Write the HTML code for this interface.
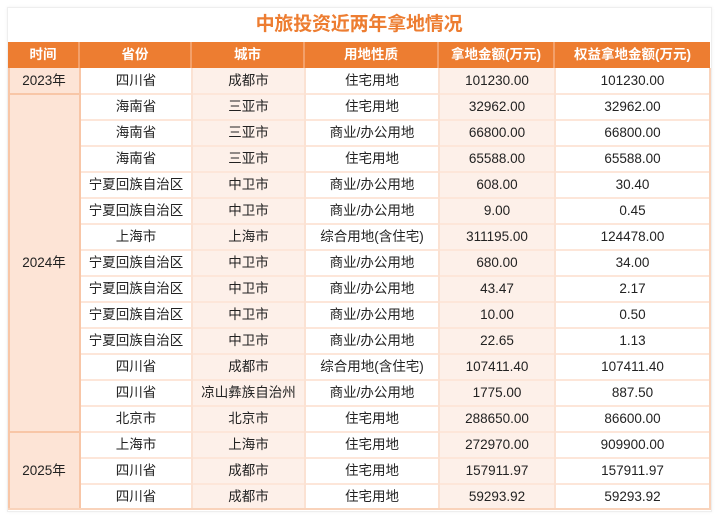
<!DOCTYPE html>
<html><head><meta charset="utf-8"><style>
*{margin:0;padding:0;box-sizing:border-box}
html,body{width:720px;height:519px;background:#fff;overflow:hidden;font-family:"Liberation Sans","Noto Sans CJK SC",sans-serif}
.panel{position:absolute;left:7px;top:7px;width:705px;height:505px;border:1px solid #eeeeee;box-shadow:0 0 3px rgba(0,0,0,0.06);background:#fff}
.title{position:absolute;left:8px;top:11px;width:702px;text-align:center;font-size:19px;font-weight:bold;color:#ed7d31;line-height:28px;letter-spacing:-0.2px}
.bg{position:absolute}
.hdr{position:absolute;left:8px;top:42px;width:702px;height:26px;background:#ed7d31;display:flex}
.hdr div{color:#fff;font-weight:bold;font-size:13.5px;text-align:center;line-height:26px;border-right:2px solid #f3a06a}
.hdr div:last-child{border-right:none}
.row{position:absolute;left:80px;width:630px;height:26px;display:flex}
.row div{font-size:13.5px;color:#222;text-align:center;line-height:25px;white-space:nowrap}
.c1{width:112px}.c2{width:113px}.c3{width:134px}.c4{width:116px}.c5{width:155px}
.hl{position:absolute;left:80px;width:630px;height:2px;background:#fde6d9}
.vl{position:absolute;top:68px;height:442px;width:1.5px;background:#fbe2d3}
.yr{position:absolute;left:8px;width:72px;text-align:center;font-size:13.5px;color:#222;line-height:20px}
</style></head><body>
<div class="panel"></div>
<div class="title">中旅投资近两年拿地情况</div>

<div class="bg" style="left:8px;top:68px;width:72px;height:442px;background:#fde4d6"></div>
<div class="bg" style="left:192px;top:68px;width:113px;height:442px;background:#fdf0e9"></div>
<div class="bg" style="left:439px;top:68px;width:116px;height:442px;background:#fdf0e9"></div>

<div class="hdr">
<div style="width:72px">时间</div><div style="width:112px">省份</div><div style="width:113px">城市</div><div style="width:134px">用地性质</div><div style="width:116px">拿地金额(万元)</div><div style="width:155px">权益拿地金额(万元)</div>
</div>

<div class="hl" style="top:93px"></div>
<div class="hl" style="top:119px"></div>
<div class="hl" style="top:145px"></div>
<div class="hl" style="top:171px"></div>
<div class="hl" style="top:197px"></div>
<div class="hl" style="top:223px"></div>
<div class="hl" style="top:249px"></div>
<div class="hl" style="top:275px"></div>
<div class="hl" style="top:301px"></div>
<div class="hl" style="top:327px"></div>
<div class="hl" style="top:353px"></div>
<div class="hl" style="top:379px"></div>
<div class="hl" style="top:405px"></div>
<div class="hl" style="top:431px"></div>
<div class="hl" style="top:457px"></div>
<div class="hl" style="top:483px"></div>
<div class="bg" style="left:8px;top:93px;width:72px;height:2px;background:#f8c6a7"></div>
<div class="bg" style="left:8px;top:431px;width:72px;height:2px;background:#f8c6a7"></div>

<div class="vl" style="left:191px"></div>
<div class="vl" style="left:304px"></div>
<div class="vl" style="left:438px"></div>
<div class="vl" style="left:554px"></div>
<div class="bg" style="left:79px;top:68px;width:2px;height:442px;background:#f8c6a7"></div>
<div class="bg" style="left:8px;top:68px;width:1.5px;height:442px;background:#f8c6a7"></div>
<div class="bg" style="left:709px;top:68px;width:1.5px;height:442px;background:#f9d3bb"></div>
<div class="bg" style="left:8px;top:508px;width:702px;height:2px;background:#f9d3bb"></div>

<div class="yr" style="top:71px">2023年</div>
<div class="yr" style="top:253px">2024年</div>
<div class="yr" style="top:461px">2025年</div>

<div class="row" style="top:68px"><div class="c1">四川省</div><div class="c2">成都市</div><div class="c3">住宅用地</div><div class="c4">101230.00</div><div class="c5">101230.00</div></div>
<div class="row" style="top:94px"><div class="c1">海南省</div><div class="c2">三亚市</div><div class="c3">住宅用地</div><div class="c4">32962.00</div><div class="c5">32962.00</div></div>
<div class="row" style="top:120px"><div class="c1">海南省</div><div class="c2">三亚市</div><div class="c3">商业/办公用地</div><div class="c4">66800.00</div><div class="c5">66800.00</div></div>
<div class="row" style="top:146px"><div class="c1">海南省</div><div class="c2">三亚市</div><div class="c3">住宅用地</div><div class="c4">65588.00</div><div class="c5">65588.00</div></div>
<div class="row" style="top:172px"><div class="c1">宁夏回族自治区</div><div class="c2">中卫市</div><div class="c3">商业/办公用地</div><div class="c4">608.00</div><div class="c5">30.40</div></div>
<div class="row" style="top:198px"><div class="c1">宁夏回族自治区</div><div class="c2">中卫市</div><div class="c3">商业/办公用地</div><div class="c4">9.00</div><div class="c5">0.45</div></div>
<div class="row" style="top:224px"><div class="c1">上海市</div><div class="c2">上海市</div><div class="c3">综合用地(含住宅)</div><div class="c4">311195.00</div><div class="c5">124478.00</div></div>
<div class="row" style="top:250px"><div class="c1">宁夏回族自治区</div><div class="c2">中卫市</div><div class="c3">商业/办公用地</div><div class="c4">680.00</div><div class="c5">34.00</div></div>
<div class="row" style="top:276px"><div class="c1">宁夏回族自治区</div><div class="c2">中卫市</div><div class="c3">商业/办公用地</div><div class="c4">43.47</div><div class="c5">2.17</div></div>
<div class="row" style="top:302px"><div class="c1">宁夏回族自治区</div><div class="c2">中卫市</div><div class="c3">商业/办公用地</div><div class="c4">10.00</div><div class="c5">0.50</div></div>
<div class="row" style="top:328px"><div class="c1">宁夏回族自治区</div><div class="c2">中卫市</div><div class="c3">商业/办公用地</div><div class="c4">22.65</div><div class="c5">1.13</div></div>
<div class="row" style="top:354px"><div class="c1">四川省</div><div class="c2">成都市</div><div class="c3">综合用地(含住宅)</div><div class="c4">107411.40</div><div class="c5">107411.40</div></div>
<div class="row" style="top:380px"><div class="c1">四川省</div><div class="c2">凉山彝族自治州</div><div class="c3">商业/办公用地</div><div class="c4">1775.00</div><div class="c5">887.50</div></div>
<div class="row" style="top:406px"><div class="c1">北京市</div><div class="c2">北京市</div><div class="c3">住宅用地</div><div class="c4">288650.00</div><div class="c5">86600.00</div></div>
<div class="row" style="top:432px"><div class="c1">上海市</div><div class="c2">上海市</div><div class="c3">住宅用地</div><div class="c4">272970.00</div><div class="c5">909900.00</div></div>
<div class="row" style="top:458px"><div class="c1">四川省</div><div class="c2">成都市</div><div class="c3">住宅用地</div><div class="c4">157911.97</div><div class="c5">157911.97</div></div>
<div class="row" style="top:484px"><div class="c1">四川省</div><div class="c2">成都市</div><div class="c3">住宅用地</div><div class="c4">59293.92</div><div class="c5">59293.92</div></div>
</body></html>
